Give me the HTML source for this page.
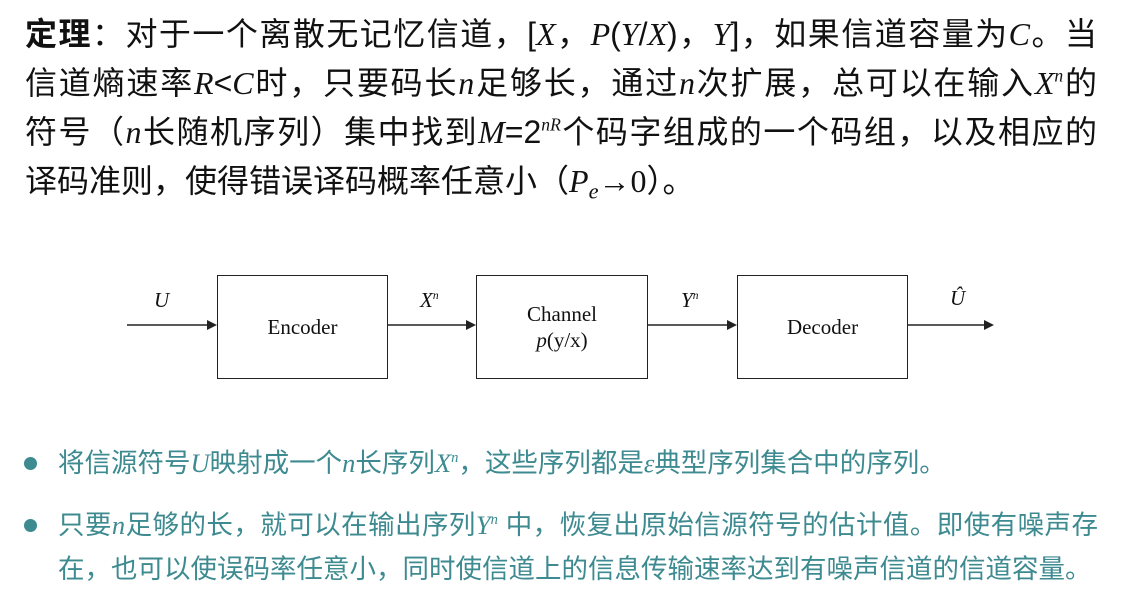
<!DOCTYPE html>
<html><head><meta charset="utf-8"><style>
body{margin:0;width:1124px;height:599px;background:#fff;position:relative;overflow:hidden;font-family:"Liberation Sans","Noto Sans CJK SC",sans-serif;}
.l{position:absolute;left:25px;width:1072px;font-size:32px;line-height:40px;color:#111;white-space:nowrap;}
.j{text-align:justify;text-align-last:justify;}
i,.m{font-family:"Liberation Serif",serif;font-style:italic;}
sup{font-size:0.55em;vertical-align:0.7em;line-height:0;}
sub{font-size:0.7em;vertical-align:-0.3em;line-height:0;}
.b{position:absolute;left:58px;font-size:26.5px;line-height:32px;color:#3d8a90;white-space:nowrap;}
.dot{position:absolute;left:24px;width:13px;height:13px;border-radius:50%;background:#3d8a90;}
.box{position:absolute;border:1.5px solid #222;box-sizing:border-box;display:flex;flex-direction:column;align-items:center;justify-content:center;text-align:center;font-family:"Liberation Serif",serif;font-size:21px;line-height:26px;color:#111;}
.lab{position:absolute;font-family:"Liberation Serif",serif;font-style:italic;font-size:21px;color:#111;}
</style></head><body>
<div class="l j" style="top:14px"><b>定理</b>：对于一个离散无记忆信道，[<i>X</i>，<i>P</i>(<i>Y</i>/<i>X</i>)，<i>Y</i>]，如果信道容量为<i>C</i>。当</div>
<div class="l j" style="top:63px">信道熵速率<i>R</i>&lt;<i>C</i>时，只要码长<i>n</i>足够长，通过<i>n</i>次扩展，总可以在输入<i>X<sup>n</sup></i>的</div>
<div class="l j" style="top:112px">符号（<i>n</i>长随机序列）集中找到<i>M</i>=2<i><sup>nR</sup></i>个码字组成的一个码组，以及相应的</div>
<div class="l" style="top:161px">译码准则，使得错误译码概率任意小（<i>P<sub>e</sub></i><span style="font-family:'Liberation Serif',serif">→0</span>）。</div>

<div class="box" style="left:217px;top:275px;width:171px;height:104px">Encoder</div>
<div class="box" style="left:476px;top:275px;width:172px;height:104px"><div>Channel</div><div><i>p</i>(y/x)</div></div>
<div class="box" style="left:737px;top:275px;width:171px;height:104px">Decoder</div>
<svg style="position:absolute;left:0;top:0" width="1124" height="599">
<g stroke="#222" stroke-width="1.5" fill="#222">
<line x1="127" y1="325" x2="210" y2="325"/><polygon points="217,325 207,320 207,330" stroke="none"/>
<line x1="388" y1="325" x2="469" y2="325"/><polygon points="476,325 466,320 466,330" stroke="none"/>
<line x1="648" y1="325" x2="730" y2="325"/><polygon points="737,325 727,320 727,330" stroke="none"/>
<line x1="908" y1="325" x2="986" y2="325"/><polygon points="994,325 984,320 984,330" stroke="none"/>
</g></svg>
<div class="lab" style="left:154px;top:288px">U</div>
<div class="lab" style="left:420px;top:288px">X<sup>n</sup></div>
<div class="lab" style="left:681px;top:288px">Y<sup>n</sup></div>
<div class="lab" style="left:950px;top:286px">Û</div>

<div class="dot" style="top:457px"></div>
<div class="b" style="top:447px">将信源符号<i>U</i>映射成一个<i>n</i>长序列<i>X<sup>n</sup></i>，这些序列都是<i>ε</i>典型序列集合中的序列。</div>
<div class="dot" style="top:519px"></div>
<div class="b j" style="top:509px;width:1040px">只要<i>n</i>足够的长，就可以在输出序列<i>Y<sup>n</sup></i> 中，恢复出原始信源符号的估计值。即使有噪声存</div>
<div class="b" style="top:553px">在，也可以使误码率任意小，同时使信道上的信息传输速率达到有噪声信道的信道容量。</div>
</body></html>
